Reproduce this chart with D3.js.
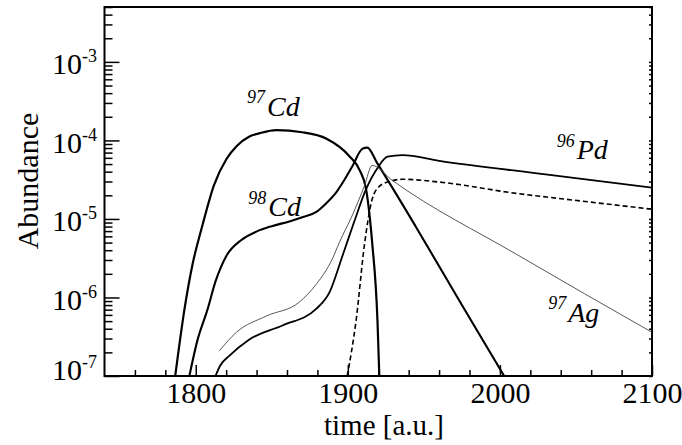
<!DOCTYPE html>
<html>
<head>
<meta charset="utf-8">
<script src="https://cdn.jsdelivr.net/npm/d3@7"></script>
<style>
  body { margin: 0; background: #fff; }
  text { font-family: "Liberation Serif", "Times New Roman", serif; fill: #000; }
</style>
</head>
<body>
<div id="chart"></div>
<script>
// abundances, time in a.u.
const cd97Time = [1786.5, 1792.6, 1798, 1804.4, 1812, 1820.2, 1827, 1835.3, 1843, 1853, 1870, 1886, 1901, 1908, 1912, 1916, 1919.5, 1920.7];
const cd97Abund = [1e-7, 7.1e-7, 2.7e-6, 8.3e-6, 2.7e-5, 5.8e-5, 8.5e-5, 1.12e-4, 1.25e-4, 1.35e-4, 1.27e-4, 1.05e-4, 6.3e-5, 4.1e-5, 2.4e-5, 5e-6, 5e-7, 1e-7];

const cd98Time = [1795.8, 1801, 1807.7, 1813, 1820.2, 1830, 1839.9, 1850, 1861.6, 1870, 1879.3, 1886, 1892.5, 1898, 1903, 1909.5, 1912.8, 1919.4, 1945, 1975, 2002.8];
const cd98Abund = [1e-7, 2.8e-7, 7e-7, 1.6e-6, 3.4e-6, 5.4e-6, 6.9e-6, 8.1e-6, 9.3e-6, 1.05e-5, 1.23e-5, 1.6e-5, 2.2e-5, 3.2e-5, 4.7e-5, 7.8e-5, 8.1e-5, 5.1e-5, 7.8e-6, 8e-7, 1e-7];

const pd96Time = [1813, 1816, 1822, 1835, 1857, 1879, 1888, 1896.5, 1904, 1912, 1920, 1926, 1936, 1960, 2030, 2100];
const pd96Abund = [1e-7, 1.35e-7, 1.8e-7, 2.9e-7, 4.4e-7, 7.1e-7, 1.17e-6, 3.4e-6, 9e-6, 2.4e-5, 4.6e-5, 6.2e-5, 6.5e-5, 5.5e-5, 3.7e-5, 2.5e-5];

const dashTime = [1899.6, 1905.6, 1910.8, 1916, 1920.7, 1927.3, 1936, 1960, 2012, 2031, 2100];
const dashAbund = [1e-7, 5.4e-7, 4.5e-6, 1.78e-5, 2.6e-5, 3.0e-5, 3.2e-5, 2.95e-5, 2.1e-5, 1.9e-5, 1.33e-5];

const ag97Time = [1815.6, 1826.7, 1846.4, 1868, 1879.3, 1889.8, 1894.4, 1903, 1910.8, 1916, 1929.2, 2011.4, 2100];
const ag97Abund = [2.1e-7, 3.6e-7, 5.8e-7, 8.7e-7, 1.48e-6, 3.1e-6, 5e-6, 1.12e-5, 2.6e-5, 4.8e-5, 3.1e-5, 3.5e-6, 3.6e-7];

const xMajor = [1800, 1900, 2000, 2100];
const yDecades = [1e-7, 1e-6, 1e-5, 1e-4, 1e-3];
const yExponents = ["-7", "-6", "-5", "-4", "-3"];

// isotope labels: left edge of the mass number and baseline of the symbol
const labelText = [
  { mass: "97", el: "Cd", t: 1833.7, v: 2.07e-4 },
  { mass: "98", el: "Cd", t: 1834.5, v: 1.09e-5 },
  { mass: "96", el: "Pd", t: 2037.3, v: 5.8e-5 },
  { mass: "97", el: "Ag", t: 2031.8, v: 4.9e-7 }
];

const W = 682, H = 445;
const x = d3.scaleLinear().domain([1740, 2100]).range([104.5, 652]);
const y = d3.scaleLog().domain([1e-7, 5e-3]).range([376, 7]);

const svg = d3.select("#chart").append("svg")
    .attr("width", W)
    .attr("height", H);

svg.append("clipPath").attr("id", "plot")
  .append("rect")
    .attr("x", x.range()[0]).attr("y", y.range()[1])
    .attr("width", x.range()[1] - x.range()[0])
    .attr("height", y.range()[0] - y.range()[1]);

// ticks
const xMinor = d3.range(1760, 2101, 20).filter(d => !xMajor.includes(d));
const yMinor = y.ticks().filter(d => !yDecades.some(p => Math.abs(p - d) / p < 1e-6));

function noDomain(g) { g.select(".domain").remove(); g.selectAll("line").attr("stroke", "#000").attr("stroke-width", 1.5); }

svg.append("g").attr("transform", `translate(0,${y.range()[0]})`)
  .call(d3.axisBottom(x).tickValues(xMinor).tickSize(-6).tickFormat(""))
  .call(noDomain);

svg.append("g").attr("transform", `translate(0,${y.range()[0]})`)
  .call(d3.axisBottom(x).tickValues(xMajor).tickSize(-11).tickPadding(6).tickFormat(d3.format("d")))
  .call(noDomain)
  .call(g => g.selectAll("text")
      .style("font-family", '"Liberation Serif", serif')
      .style("font-size", "30px"));

svg.append("g").attr("transform", `translate(${x.range()[0]},0)`)
  .call(d3.axisLeft(y).tickValues(yMinor).tickSize(-8).tickFormat(""))
  .call(noDomain);

svg.append("g").attr("transform", `translate(${x.range()[0]},0)`)
  .call(d3.axisLeft(y).tickValues(yDecades).tickSize(-15).tickFormat(""))
  .call(noDomain);

svg.append("g").attr("transform", `translate(${x.range()[1]},0)`)
  .call(d3.axisRight(y).tickValues(y.ticks()).tickSize(-3).tickFormat(""))
  .call(noDomain);

// y labels as 10 with superscript exponent
const yLab = svg.append("g").selectAll("text")
  .data(yDecades)
  .enter().append("text")
    .attr("x", 97)
    .attr("y", (d, i) => y(d) + (i === 0 ? 4 : 12.5))
    .attr("text-anchor", "end");
yLab.append("tspan").style("font-size", "30px").text("10");
yLab.append("tspan").style("font-size", "18px").attr("dy", -12)
    .text((d, i) => yExponents[i]);

// frame
svg.append("rect")
    .attr("x", x.range()[0]).attr("y", y.range()[1])
    .attr("width", x.range()[1] - x.range()[0])
    .attr("height", y.range()[0] - y.range()[1])
    .attr("fill", "none").attr("stroke", "#000").attr("stroke-width", 2);

// curves
const line = d3.line()
    .x(d => x(d[0]))
    .y(d => y(d[1]))
    .curve(d3.curveMonotoneX);

const series = [
  { t: cd97Time, v: cd97Abund, w: 2.2, dash: null, col: "#000" },
  { t: cd98Time, v: cd98Abund, w: 2.1, dash: null, col: "#000" },
  { t: pd96Time, v: pd96Abund, w: 1.8, dash: null, col: "#000" },
  { t: dashTime, v: dashAbund, w: 1.6, dash: "5,3", col: "#000" },
  { t: ag97Time, v: ag97Abund, w: 0.9, dash: null, col: "#444" }
];

svg.append("g").attr("clip-path", "url(#plot)")
  .selectAll("path")
  .data(series)
  .enter().append("path")
    .attr("d", s => line(s.t.map((t, i) => [t, s.v[i]])))
    .attr("fill", "none")
    .attr("stroke", s => s.col)
    .attr("stroke-width", s => s.w)
    .attr("stroke-dasharray", s => s.dash)
    .attr("stroke-linejoin", "round");

// isotope labels
const iso = svg.append("g").selectAll("text")
  .data(labelText)
  .enter().append("text")
    .attr("x", d => x(d.t))
    .attr("y", d => y(d.v))
    .style("font-style", "italic");
iso.append("tspan").style("font-size", "18px").attr("dy", -12.4).text(d => d.mass);
iso.append("tspan").style("font-size", "28px").attr("dy", 12.4).attr("dx", 2).text(d => d.el);

// axis titles
svg.append("text")
    .attr("x", 384).attr("y", 435)
    .attr("text-anchor", "middle")
    .style("font-size", "29px")
    .text("time [a.u.]");

svg.append("text")
    .attr("transform", "translate(38,181) rotate(-90)")
    .attr("text-anchor", "middle")
    .style("font-size", "30px")
    .text("Abundance");
</script>
</body>
</html>
